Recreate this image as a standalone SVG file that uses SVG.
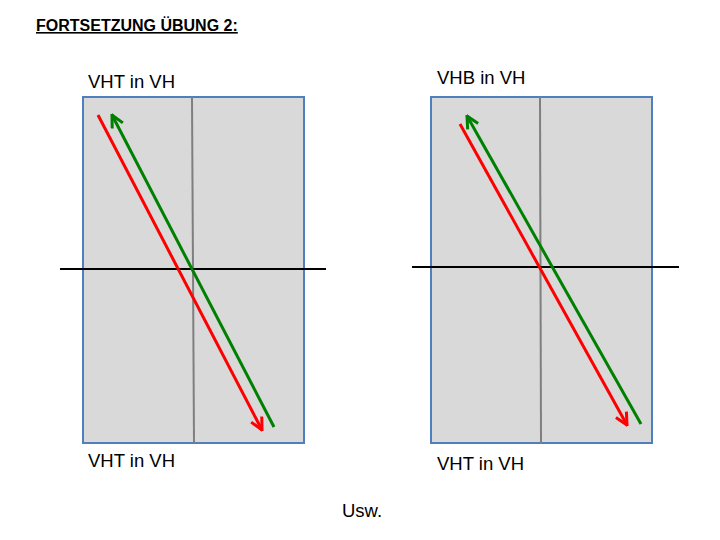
<svg xmlns="http://www.w3.org/2000/svg" width="720" height="540" viewBox="0 0 720 540">
<defs>
<style>
.panel{fill:#d9d9d9;stroke:#4f7fbf;stroke-width:2}
.vline{stroke:#7f7f7f;stroke-width:2;fill:none}
.hline{stroke:#000;stroke-width:2;fill:none}
.red{stroke:#ff0000;stroke-width:3;fill:none}
.green{stroke:#008000;stroke-width:3;fill:none}
.lbl{font-family:"Liberation Sans",Arial,sans-serif;font-size:18.5px;fill:#000}
.title{font-family:"Liberation Sans",Arial,sans-serif;font-size:16px;font-weight:bold;text-decoration:underline;fill:#000}
</style>
<marker id="ar" viewBox="0 0 10 10" refX="9" refY="5" markerWidth="5" markerHeight="5" orient="auto" markerUnits="strokeWidth">
<path d="M1,1 L9,5 L1,9" fill="none" stroke="#ff0000" stroke-width="2"/>
</marker>
<marker id="ag" viewBox="0 0 10 10" refX="9" refY="5" markerWidth="5" markerHeight="5" orient="auto" markerUnits="strokeWidth">
<path d="M1,1 L9,5 L1,9" fill="none" stroke="#008000" stroke-width="2"/>
</marker>
</defs>
<rect width="720" height="540" fill="#fff"/>
<text class="title" x="36" y="31">FORTSETZUNG ÜBUNG 2:</text>
<g id="left-panel">
<rect class="panel" x="83" y="97" width="221" height="346"/>
<line class="vline" x1="192" y1="97" x2="194" y2="443"/>
<line class="hline" x1="60" y1="269" x2="326" y2="269"/>
</g>
<g id="right-panel">
<rect class="panel" x="431" y="97" width="221" height="346"/>
<line class="vline" x1="540" y1="97" x2="541" y2="443"/>
<line class="hline" x1="412" y1="267" x2="679" y2="267"/>
</g>
<g id="connectors">
<line class="red" x1="98" y1="115" x2="262" y2="430" marker-end="url(#ar)"/>
<line class="green" x1="274" y1="427" x2="112" y2="115" marker-end="url(#ag)"/>
<line class="red" x1="460" y1="124" x2="627" y2="425" marker-end="url(#ar)"/>
<line class="green" x1="641" y1="424" x2="467" y2="116" marker-end="url(#ag)"/>
</g>
<g id="labels">
<text class="lbl" x="88" y="88">VHT in VH</text>
<text class="lbl" x="437" y="84">VHB in VH</text>
<text class="lbl" x="88" y="467">VHT in VH</text>
<text class="lbl" x="437" y="470">VHT in VH</text>
<text class="lbl" x="362" y="517" text-anchor="middle">Usw.</text>
</g>
</svg>
